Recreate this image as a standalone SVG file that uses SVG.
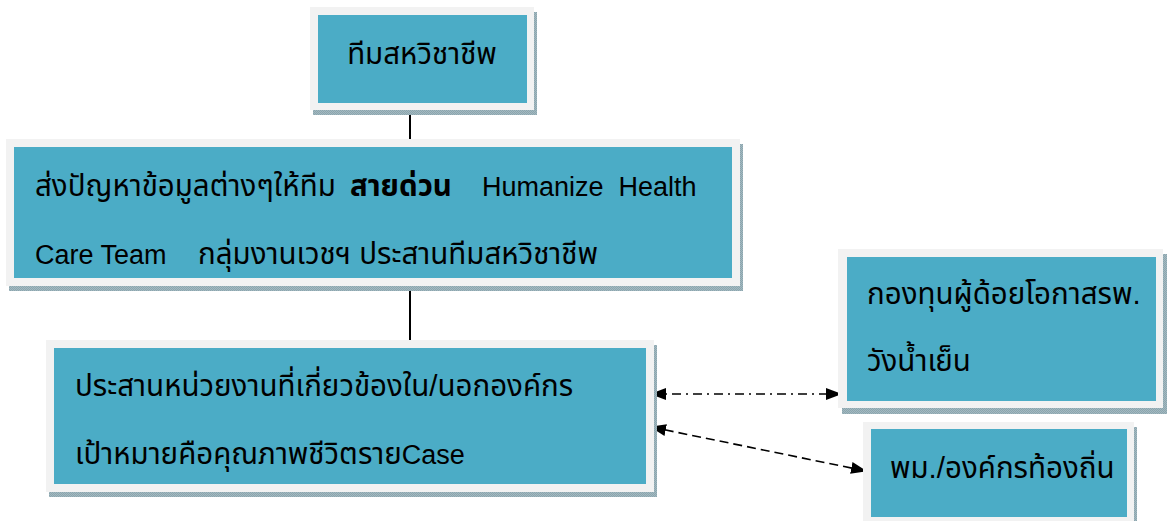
<svg xmlns="http://www.w3.org/2000/svg" width="1170" height="521" viewBox="0 0 1170 521">
  <defs>
    <!-- speckled grey-blue fill used for drop shadows -->
    <pattern id="shadeTex" width="2" height="2" patternUnits="userSpaceOnUse">
      <rect width="2" height="2" fill="#a3b9c0"/>
      <rect width="1" height="1" fill="#8ba5ae"/>
      <rect x="1" y="1" width="1" height="1" fill="#8ba5ae"/>
    </pattern>
    <marker id="arrowHead" viewBox="0 0 16 12" refX="15" refY="6" markerWidth="16" markerHeight="12" markerUnits="userSpaceOnUse" orient="auto-start-reverse">
      <path d="M0,0 L16,6 L0,12 Z" fill="#000"/>
    </marker>
  </defs>
  <style>
    .shadow { fill: url(#shadeTex); }
    .frame { fill: #f2f2f2; }
    .body { fill: #4bacc6; }
    .label { font-family: "Liberation Sans", "Noto Sans Thai", "Noto Sans", sans-serif; font-size: 29.5px; fill: #000; }
    .latin { font-size: 27px; }
    .strong { font-weight: bold; }
    .link { stroke: #000; stroke-width: 2; fill: none; }
    .pair { stroke: #000; stroke-width: 1.6; fill: none; marker-start: url(#arrowHead); marker-end: url(#arrowHead); }
  </style>

  <rect width="1170" height="521" fill="#ffffff"/>

  <!-- connectors -->
  <g id="connectors">
    <line class="link" x1="410" y1="110" x2="410" y2="139"/>
    <line class="link" x1="410" y1="286" x2="410" y2="340"/>
    <line class="pair" x1="651" y1="394" x2="841" y2="394" stroke-dasharray="9 5 2 5"/>
    <line class="pair" x1="651" y1="427" x2="866" y2="471" stroke-dasharray="9 5"/>
  </g>

  <!-- multidisciplinary team -->
  <g id="node-team">
    <rect class="shadow" x="313" y="12" width="224" height="103"/>
    <rect class="frame" x="310" y="7" width="224" height="103"/>
    <rect class="body" x="318" y="15" width="209" height="88"/>
    <text class="label" x="422" y="64" text-anchor="middle">ทีมสหวิชาชีพ</text>
  </g>

  <!-- hotline forwarding -->
  <g id="node-hotline">
    <rect class="shadow" x="9" y="144" width="734" height="147"/>
    <rect class="frame" x="6" y="139" width="734" height="147"/>
    <rect class="body" x="14" y="147" width="718" height="131"/>
    <text class="label" y="196" xml:space="preserve"><tspan x="35">ส่งปัญหาข้อมูลต่างๆให้ทีม</tspan><tspan x="350" class="strong">สายด่วน</tspan><tspan x="482" class="latin">Humanize  Health</tspan></text>
    <text class="label" y="264"><tspan x="35" class="latin">Care Team</tspan><tspan x="198">กลุ่มงานเวชฯ ประสานทีมสหวิชาชีพ</tspan></text>
  </g>

  <!-- coordination -->
  <g id="node-coordinate">
    <rect class="shadow" x="49" y="345" width="608" height="152"/>
    <rect class="frame" x="46" y="340" width="608" height="152"/>
    <rect class="body" x="54" y="348" width="592" height="136"/>
    <text class="label" x="75" y="396">ประสานหน่วยงานที่เกี่ยวข้องใน/นอกองค์กร</text>
    <text class="label" x="75" y="464">เป้าหมายคือคุณภาพชีวิตราย<tspan class="latin">Case</tspan></text>
  </g>

  <!-- fund -->
  <g id="node-fund">
    <rect class="shadow" x="842" y="254" width="325" height="160"/>
    <rect class="frame" x="838" y="249" width="325" height="159"/>
    <rect class="body" x="847" y="257" width="309" height="144"/>
    <text class="label" x="867" y="304">กองทุนผู้ด้อยโอกาสรพ.</text>
    <text class="label" x="867" y="371">วังน้ำเย็น</text>
  </g>

  <!-- local organisations -->
  <g id="node-local">
    <rect class="shadow" x="866" y="427" width="271" height="103"/>
    <rect class="frame" x="863" y="422" width="271" height="103"/>
    <rect class="body" x="871" y="429" width="256" height="88"/>
    <text class="label" x="890" y="478">พม./องค์กรท้องถิ่น</text>
  </g>
</svg>
